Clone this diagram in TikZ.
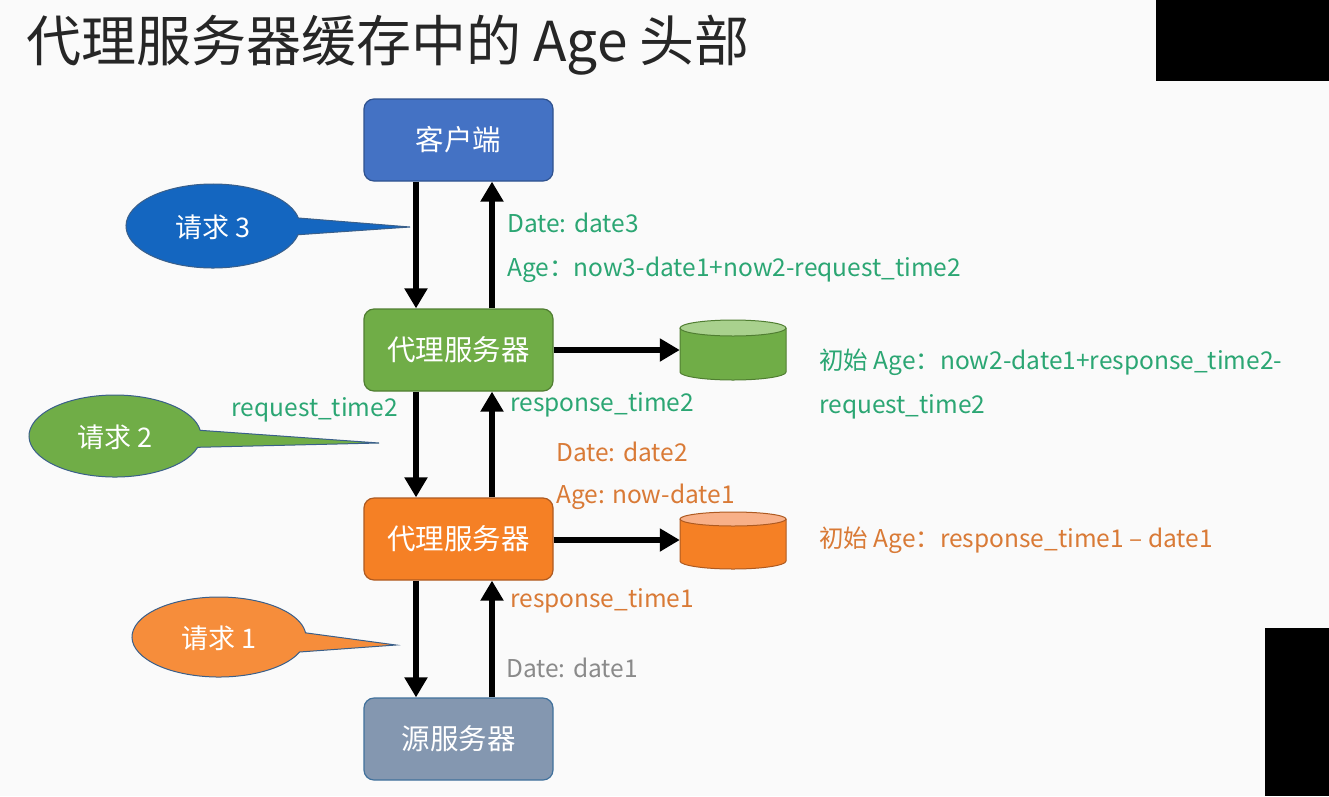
\documentclass[tikz,border=0pt]{standalone}
\usepackage{fontspec}
\setmainfont{Noto Sans CJK SC}
\usetikzlibrary{arrows.meta}
\definecolor{bg}{HTML}{FAFAFA}
\definecolor{cblue}{HTML}{4472C4}
\definecolor{cbluel}{HTML}{2F528F}
\definecolor{cgreen}{HTML}{70AD47}
\definecolor{cgreenl}{HTML}{507E32}
\definecolor{cgreent}{HTML}{A9D18E}
\definecolor{corange}{HTML}{F58025}
\definecolor{corangel}{HTML}{AE5A21}
\definecolor{coranget}{HTML}{F8B088}
\definecolor{cslate}{HTML}{8497B0}
\definecolor{cslatel}{HTML}{41719C}
\definecolor{cball}{HTML}{1466C0}
\definecolor{cedge}{HTML}{3A5F8A}
\definecolor{tgreen}{HTML}{2BA673}
\definecolor{torange}{HTML}{D97A36}
\definecolor{tgrey}{HTML}{8A8A8A}
\definecolor{ttitle}{HTML}{262626}
\begin{document}
\begin{tikzpicture}[x=1pt,y=-1pt,
  box/.style={rounded corners=10pt, minimum width=189pt, minimum height=82pt, inner sep=0pt,
    text=white, font=\fontsize{28.5}{34}\selectfont, line width=1.2pt},
  arr/.style={line width=6pt, -{Triangle[length=20pt,width=22pt]}},
  lbl/.style={anchor=west, inner sep=0pt, font=\fontsize{24.5}{30}\selectfont},
  balloontext/.style={inner sep=0pt, text=white, font=\fontsize{27}{32}\selectfont},
  balloon/.style={line width=1pt, draw=cedge},
  slot/.style={minimum width=106pt, minimum height=60pt, inner sep=0pt}]
\useasboundingbox (0,0) rectangle (1329,796);
\fill[bg] (0,0) rectangle (1329,796);
\fill[black] (1156,0) rectangle (1329,81);
\fill[black] (1265,628) rectangle (1329,796);

% title
\node[anchor=west, inner sep=0pt, text=ttitle, font=\fontsize{55}{60}\selectfont] (title) at (26,45) {代理服务器缓存中的 Age 头部};

% boxes
\node[box, fill=cblue, draw=cbluel] (client) at (458.5,140) {客户端};
\node[box, fill=cgreen, draw=cgreenl] (proxy2) at (458.5,350) {代理服务器};
\node[box, fill=corange, draw=corangel] (proxy1) at (458.5,539) {代理服务器};
\node[box, fill=cslate, draw=cslatel] (origin) at (458.5,739) {源服务器};

\coordinate (dx) at (416,0);
\coordinate (ux) at (492,0);

% vertical arrows
\draw[arr] (client.south -| dx) -- (proxy2.north -| dx);
\draw[arr] (proxy2.north -| ux) -- (client.south -| ux);
\draw[arr] (proxy2.south -| dx) -- (proxy1.north -| dx);
\draw[arr] (proxy1.north -| ux) -- (proxy2.south -| ux);
\draw[arr] (proxy1.south -| dx) -- (origin.north -| dx);
\draw[arr] (origin.north -| ux) -- (proxy1.south -| ux);

% cylinders
\node[slot] (cache2) at (733,350) {};
\node[slot] (cache1) at (733,540) {};
\path[fill=cgreen] (680,328) -- (680,372) arc[start angle=180,end angle=0,x radius=53,y radius=8] -- (786,328) -- cycle;
\draw[cgreenl, line width=1pt] (680,328) -- (680,372) arc[start angle=180,end angle=0,x radius=53,y radius=8] -- (786,328);
\filldraw[fill=cgreent, draw=cgreenl, line width=1pt] (733,328) ellipse[x radius=53, y radius=8];
\path[fill=corange] (680,519) -- (680,561) arc[start angle=180,end angle=0,x radius=53,y radius=8] -- (786,519) -- cycle;
\draw[corangel, line width=1pt] (680,519) -- (680,561) arc[start angle=180,end angle=0,x radius=53,y radius=8] -- (786,519);
\filldraw[fill=coranget, draw=corangel, line width=1pt] (733,519) ellipse[x radius=53, y radius=7];

\draw[arr] (proxy2.east) -- (cache2.west);
\draw[arr] (proxy1.east |- cache1.west) -- (cache1.west);

% balloons
\filldraw[balloon, fill=cball] (213,226) ++(12:87 and 42) arc[start angle=12,end angle=349,x radius=87,y radius=42] -- (410,227) -- cycle;
\node[balloontext] (req3) at (213,227) {请求 3};
\filldraw[balloon, fill=cgreen] (115,436) ++(16:86 and 41) arc[start angle=16,end angle=352,x radius=86,y radius=41] -- (379,443) -- cycle;
\node[balloontext] (req2) at (115,437) {请求 2};
\filldraw[balloon, fill=corange!90!white] (219,637) ++(22:87 and 40) arc[start angle=22,end angle=354,x radius=87,y radius=40] -- (396,645) -- cycle;
\node[balloontext] (req1) at (219,638) {请求 1};

% labels
\node[lbl, text=tgreen] (l1) at (507,223) {Date: date3};
\node[lbl, text=tgreen] (l2) at (507,270) {Age：now3-date1+now2-request\_time2};
\node[lbl, anchor=east, text=tgreen] (l3) at (398,410) {request\_time2};
\node[lbl, text=tgreen] (l4) at (510,405) {response\_time2};
\node[lbl, text=torange] (l5) at (556,452) {Date: date2};
\node[lbl, text=torange] (l6) at (556,497) {Age: now-date1};
\node[lbl, text=torange] (l7) at (510,601) {response\_time1};
\node[lbl, text=tgrey] (l8) at (506,668) {Date: date1};
\node[lbl, text=tgreen] (l9) at (819,362) {初始 Age：now2-date1+response\_time2-};
\node[lbl, text=tgreen] (l10) at (819,407) {request\_time2};
\node[lbl, text=torange] (l11) at (819,540) {初始 Age：response\_time1 – date1};
\end{tikzpicture}
\end{document}
